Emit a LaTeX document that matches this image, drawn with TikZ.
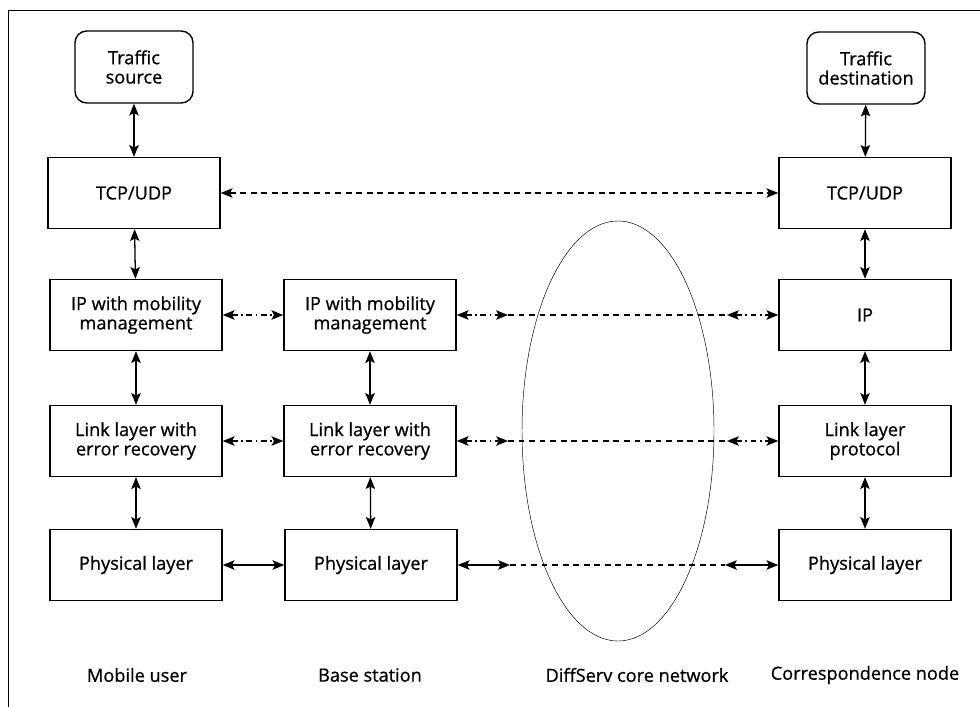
\documentclass[tikz,border=0pt]{standalone}
\usepackage{fontspec}
\setmainfont{Open Sans}[UprightFeatures={FakeBold=0.8}]
\usetikzlibrary{shapes.geometric,arrows.meta}

\begin{document}
\begin{tikzpicture}[x=0.03cm,y=-0.03cm,>={Stealth[length=10pt,width=8pt,inset=2pt]},
    layer/.style={draw,line width=1.2pt,minimum width=5.16cm,minimum height=2.13cm,align=center,
      font=\fontsize{15.5}{16.5}\selectfont},
    endpoint/.style={draw,line width=1.2pt,rounded corners=10pt,minimum width=3.54cm,minimum height=2.16cm,
      align=center,font=\fontsize{15.5}{16.5}\selectfont},
    caption/.style={font=\fontsize{15.5}{16.5}\selectfont},
    link/.style={<->,line width=1.1pt},
    peer/.style={<->,line width=1.1pt,dash pattern=on 5pt off 4pt},
    hop/.style={<->,line width=1.1pt,dash pattern=on 5pt off 3pt on 1.5pt off 3pt},
    across/.style={line width=0.9pt,dash pattern=on 5pt off 4pt}]
  \useasboundingbox (0,0) rectangle (980,707);
  % page frame
  \draw[thin] (8,707) -- (8,10) -- (980,10);
  % mobile user
  \node[endpoint] (src) at (134,67) {Traffic\\source};
  \node[layer] (tcpM) at (134,193) {TCP/UDP};
  \node[layer] (ipM) at (136,315) {IP with mobility\\management};
  \node[layer] (llM) at (136,441) {Link layer with\\error recovery};
  \node[layer] (phyM) at (136,565) {Physical layer};
  % base station
  \node[layer] (ipB) at (370,315) {IP with mobility\\management};
  \node[layer] (llB) at (370,441) {Link layer with\\error recovery};
  \node[layer] (phyB) at (371,565) {Physical layer};
  % diffserv core
  \node[ellipse,draw,thin,inner sep=0pt,minimum width=5.76cm,minimum height=12.6cm] (core) at (618,431) {};
  % correspondence node
  \node[endpoint] (dst) at (866,68) {Traffic\\destination};
  \node[layer] (tcpC) at (865,193) {TCP/UDP};
  \node[layer] (ipC) at (865,315) {IP};
  \node[layer] (llC) at (865,441) {Link layer\\protocol};
  \node[layer] (phyC) at (865,565) {Physical layer};
  % column captions
  \node[caption] (capM) at (137,675) {Mobile user};
  \node[caption] (capB) at (370,675) {Base station};
  \node[caption] (capD) at (637,675) {DiffServ core network};
  \node[caption] (capC) at (865,675) {Correspondence node};
  % ends of the core crossing
  \coordinate (ipIn) at (508,315);
  \coordinate (ipOut) at (727,315);
  \coordinate (llIn) at (508,441);
  \coordinate (llOut) at (727,441);
  \coordinate (phyIn) at (510,565);
  \coordinate (phyOut) at (725,565);
  % protocol stacks
  \draw[link] (src) -- (tcpM);
  \draw[link] (tcpM) -- (ipM);
  \draw[link] (ipM) -- (llM);
  \draw[link] (llM) -- (phyM);
  \draw[link] (ipB) -- (llB);
  \draw[link] (llB) -- (phyB);
  \draw[link] (dst) -- (tcpC);
  \draw[link] (tcpC) -- (ipC);
  \draw[link] (ipC) -- (llC);
  \draw[link] (llC) -- (phyC);
  % peer links
  \draw[peer] (tcpM) -- (tcpC);
  \draw[hop] (ipM) -- (ipB);
  \draw[hop] (ipB.east) -- (ipIn);
  \draw[across] (ipIn) -- (ipOut);
  \draw[hop] (ipOut) -- (ipC.west);
  \draw[hop] (llM) -- (llB);
  \draw[hop] (llB.east) -- (llIn);
  \draw[across] (llIn) -- (llOut);
  \draw[hop] (llOut) -- (llC.west);
  \draw[link] (phyM) -- (phyB);
  \draw[link] (phyB.east) -- (phyIn);
  \draw[across] (phyIn) -- (phyOut);
  \draw[link] (phyOut) -- (phyC.west);
\end{tikzpicture}
\end{document}
